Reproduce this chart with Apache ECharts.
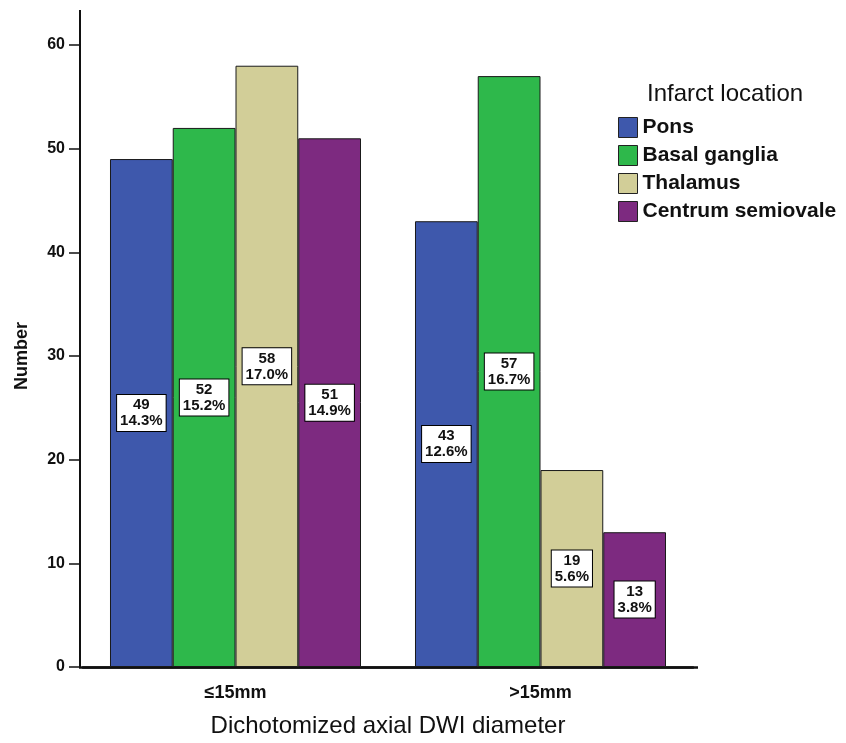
<!DOCTYPE html>
<html>
<head>
<meta charset="utf-8">
<script src="https://cdn.jsdelivr.net/npm/echarts@6/dist/echarts.min.js"></script>
<style>
html,body{margin:0;padding:0;background:#fff;}
#main{width:846px;height:743px;}
</style>
</head>
<body>
<div id="main"></div>
<script>
const categories = ['≤15mm', '>15mm'];
const seriesNames = ['Pons', 'Basal ganglia', 'Thalamus', 'Centrum semiovale'];
const pons = [49, 43];
const basalGanglia = [52, 57];
const thalamus = [58, 19];
const centrumSemiovale = [51, 13];
const ponsPct = ['14.3%', '12.6%'];
const basalPct = ['15.2%', '16.7%'];
const thalamusPct = ['17.0%', '5.6%'];
const centrumPct = ['14.9%', '3.8%'];
const yTicks = [0, 10, 20, 30, 40, 50, 60];

const colors = ['#3E58AC', '#2EB84B', '#D2CE98', '#7D2A80'];
const values = [pons, basalGanglia, thalamus, centrumSemiovale];
const pcts = [ponsPct, basalPct, thalamusPct, centrumPct];

const chart = echarts.init(document.getElementById('main'), null, {renderer: 'canvas'});
const FONT = '"Liberation Sans", Arial, sans-serif';

const series = seriesNames.map((name, si) => ({
  name: name,
  type: 'bar',
  data: values[si],
  barCategoryGap: '17.7%',
  barGap: '0%',
  itemStyle: { color: colors[si], borderColor: '#1a1a1a', borderWidth: 1 },
  label: {
    show: true,
    position: 'inside',
    formatter: p => p.value + '\n' + pcts[si][p.dataIndex],
    backgroundColor: '#fff',
    borderColor: '#000',
    borderWidth: 1,
    padding: [2, 3, 2, 3],
    color: '#111',
    fontFamily: FONT,
    fontWeight: 'bold',
    fontSize: 15,
    lineHeight: 16,
    align: 'center'
  },
  emphasis: { disabled: true },
  animation: false
}));

chart.setOption({
  animation: false,
  color: colors,
  title: {
    text: 'Infarct location',
    left: 642,
    top: 77,
    textStyle: { fontFamily: FONT, fontSize: 24, fontWeight: 'normal', color: '#111' }
  },
  legend: {
    orient: 'vertical',
    left: 613,
    top: 112,
    itemWidth: 19,
    itemHeight: 20,
    itemGap: 7,
    icon: 'rect',
    data: seriesNames,
    itemStyle: { borderColor: '#222', borderWidth: 1 },
    textStyle: { fontFamily: FONT, fontSize: 21, fontWeight: 'bold', color: '#111' }
  },
  grid: { left: 83, right: 153, top: 45, bottom: 76, containLabel: false },
  xAxis: {
    type: 'category',
    data: categories,
    name: 'Dichotomized axial DWI diameter',
    nameLocation: 'middle',
    nameGap: 47,
    nameTextStyle: { fontFamily: FONT, fontSize: 24, color: '#111' },
    axisLine: { lineStyle: { color: '#111', width: 2.5 } },
    axisTick: { alignWithLabel: true, length: 9, lineStyle: { color: '#111', width: 1.5 } },
    axisLabel: { fontFamily: FONT, fontSize: 18, fontWeight: 'bold', color: '#111', margin: 17 }
  },
  yAxis: {
    type: 'value',
    min: yTicks[0],
    max: yTicks[yTicks.length - 1],
    interval: 10,
    offset: 3,
    name: 'Number',
    nameLocation: 'middle',
    nameGap: 49,
    nameRotate: 90,
    nameTextStyle: { fontFamily: FONT, fontSize: 18, fontWeight: 'bold', color: '#111' },
    axisLine: { show: true, lineStyle: { color: '#111', width: 2 } },
    axisTick: { show: true, length: 11, lineStyle: { color: '#111', width: 1.5 } },
    axisLabel: { fontFamily: FONT, fontSize: 16, fontWeight: 'bold', color: '#111', margin: 15 },
    splitLine: { show: false }
  },
  series: series
});

// extend the axis lines beyond the plot area like the reference
const p0 = chart.convertToPixel({gridIndex: 0}, [0, yTicks[0]]);
const pTop = chart.convertToPixel({gridIndex: 0}, [0, yTicks[yTicks.length - 1]]);
const yAxisX = 80;
chart.setOption({
  graphic: [
    { type: 'line', shape: { x1: yAxisX, y1: 10, x2: yAxisX, y2: pTop[1] + 1 }, style: { stroke: '#111', lineWidth: 2 } },
    { type: 'line', shape: { x1: yAxisX - 1, y1: Math.round(p0[1]) + 0.5, x2: 698, y2: Math.round(p0[1]) + 0.5 }, style: { stroke: '#111', lineWidth: 2.5 } }
  ]
});
</script>
</body>
</html>
